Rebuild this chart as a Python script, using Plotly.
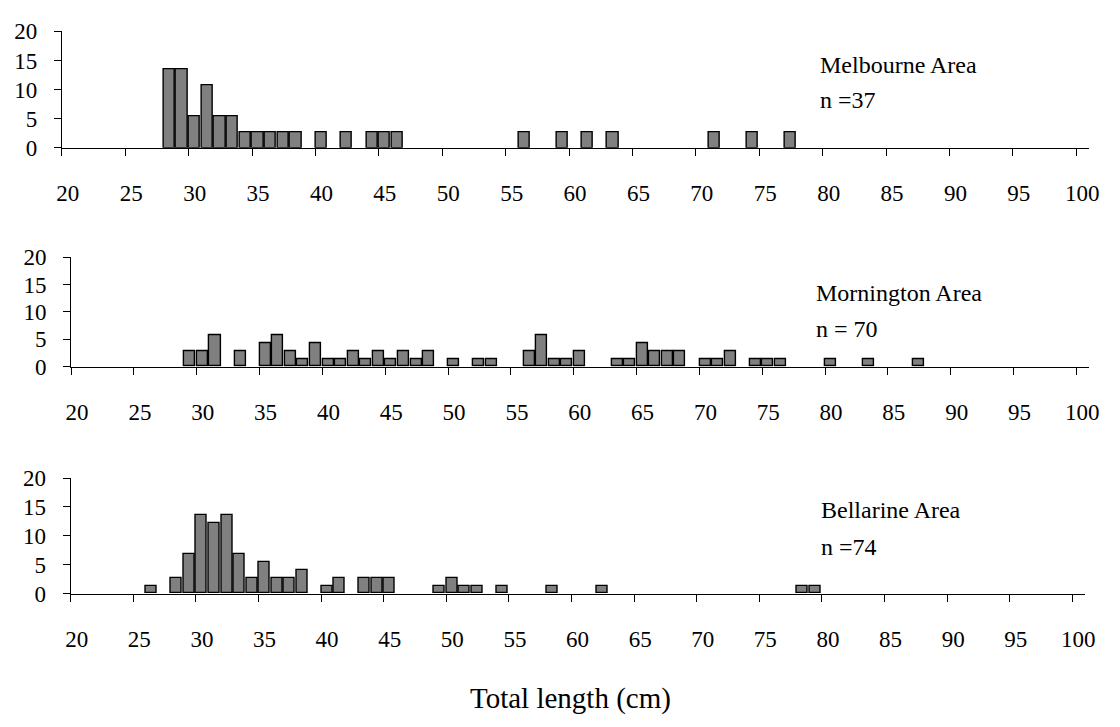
import plotly.graph_objects as go

# Total-length frequency (number of fish per 1 cm class) for each area
melbourne_n = 37
melbourne_len = [28, 29, 30, 31, 32, 33, 34, 35, 36, 37, 38, 40, 42, 44, 45, 46,
                 56, 59, 61, 63, 71, 74, 77]
melbourne_cnt = [5, 5, 2, 4, 2, 2, 1, 1, 1, 1, 1, 1, 1, 1, 1, 1,
                 1, 1, 1, 1, 1, 1, 1]

mornington_n = 70
mornington_len = [29, 30, 31, 33, 35, 36, 37, 38, 39, 40, 41, 42, 43, 44, 45, 46, 47, 48,
                  50, 52, 53, 56, 57, 58, 59, 60, 63, 64, 65, 66, 67, 68,
                  70, 71, 72, 74, 75, 76, 80, 83, 87]
mornington_cnt = [2, 2, 4, 2, 3, 4, 2, 1, 3, 1, 1, 2, 1, 2, 1, 2, 1, 2,
                  1, 1, 1, 2, 4, 1, 1, 2, 1, 1, 3, 2, 2, 2,
                  1, 1, 2, 1, 1, 1, 1, 1, 1]

bellarine_n = 74
bellarine_len = [26, 28, 29, 30, 31, 32, 33, 34, 35, 36, 37, 38, 40, 41, 43, 44, 45,
                 49, 50, 51, 52, 54, 58, 62, 78, 79]
bellarine_cnt = [1, 2, 5, 10, 9, 10, 5, 2, 4, 2, 2, 3, 1, 2, 2, 2, 2,
                 1, 2, 1, 1, 1, 1, 1, 1, 1]

area_names = ["Melbourne Area", "Mornington Area", "Bellarine Area"]
n_labels = ["n =37", "n = 70", "n =74"]

x_ticks = list(range(20, 101, 5))
y_ticks = [0, 5, 10, 15, 20]
x_title = "Total length (cm)"

W, H = 1120, 727
FONT = "Liberation Serif"

# panel geometry in pixels: (x of 20 cm, x of 101 cm, y of 0 %, y of 20 %)
panels_px = [
    (56.7, 1099.6, 140.7, 20.0),
    (66.1, 1099.6, 367.3, 254.0),
    (65.7, 1095.5, 602.3, 482.7),
]
# label anchor (left x, baseline of area name, baseline of n)
text_px = [
    (825, 62.3, 98.3),
    (820, 298.3, 336.0),
    (826, 523.3, 561.0),
]

series = [
    (melbourne_len, melbourne_cnt, melbourne_n),
    (mornington_len, mornington_cnt, mornington_n),
    (bellarine_len, bellarine_cnt, bellarine_n),
]

fig = go.Figure()
layout = dict(
    width=W, height=H,
    margin=dict(l=0, r=0, t=0, b=0),
    paper_bgcolor="white", plot_bgcolor="white",
    showlegend=False,
    font=dict(family=FONT, size=23, color="black"),
    bargap=0,
)

annotations = []
for i, ((lens, cnts, n), (x0, x1, y0, y1), (tx, tb1, tb2)) in enumerate(zip(series, panels_px, text_px)):
    sfx = "" if i == 0 else str(i + 1)
    pct = [100.0 * c / n for c in cnts]
    fig.add_trace(go.Bar(
        x=lens, y=pct,
        offset=0.02, width=0.88,
        marker=dict(color="#808080", line=dict(color="black", width=1.4)),
        xaxis="x" + sfx, yaxis="y" + sfx,
        hoverinfo="x+y",
    ))
    layout["xaxis" + sfx] = dict(
        domain=[x0 / W, x1 / W], anchor="y" + sfx,
        range=[20, 101], tickmode="array", tickvals=x_ticks,
        ticks="outside", ticklen=7, tickcolor="black", tickwidth=1,
        showline=True, linecolor="black", linewidth=1,
        showgrid=False, zeroline=False,
        ticklabelshift=6, ticklabelstandoff=18,
        tickfont=dict(family=FONT, size=23, color="black"),
    )
    layout["yaxis" + sfx] = dict(
        domain=[(H - y0) / H, (H - y1) / H], anchor="x" + sfx,
        range=[0, 20], tickmode="array", tickvals=y_ticks,
        ticks="outside", ticklen=7, tickcolor="black", tickwidth=1,
        showline=True, linecolor="black", linewidth=1,
        showgrid=False, zeroline=False,
        ticklabelstandoff=12,
        tickfont=dict(family=FONT, size=23, color="black"),
    )
    fs = 24
    for text, base in ((area_names[i], tb1), (n_labels[i], tb2)):
        annotations.append(dict(
            text=text, xref="paper", yref="paper",
            x=tx / W, y=(H - (base - 0.30 * fs)) / H,
            xanchor="left", yanchor="middle", showarrow=False,
            font=dict(family=FONT, size=fs, color="black"),
        ))

tfs = 29
annotations.append(dict(
    text=x_title, xref="paper", yref="paper",
    x=573 / W, y=(H - (719.3 - 0.30 * tfs)) / H,
    xanchor="center", yanchor="middle", showarrow=False,
    font=dict(family=FONT, size=tfs, color="black"),
))
layout["annotations"] = annotations

fig.update_layout(**layout)
fig.write_html("out.html")
